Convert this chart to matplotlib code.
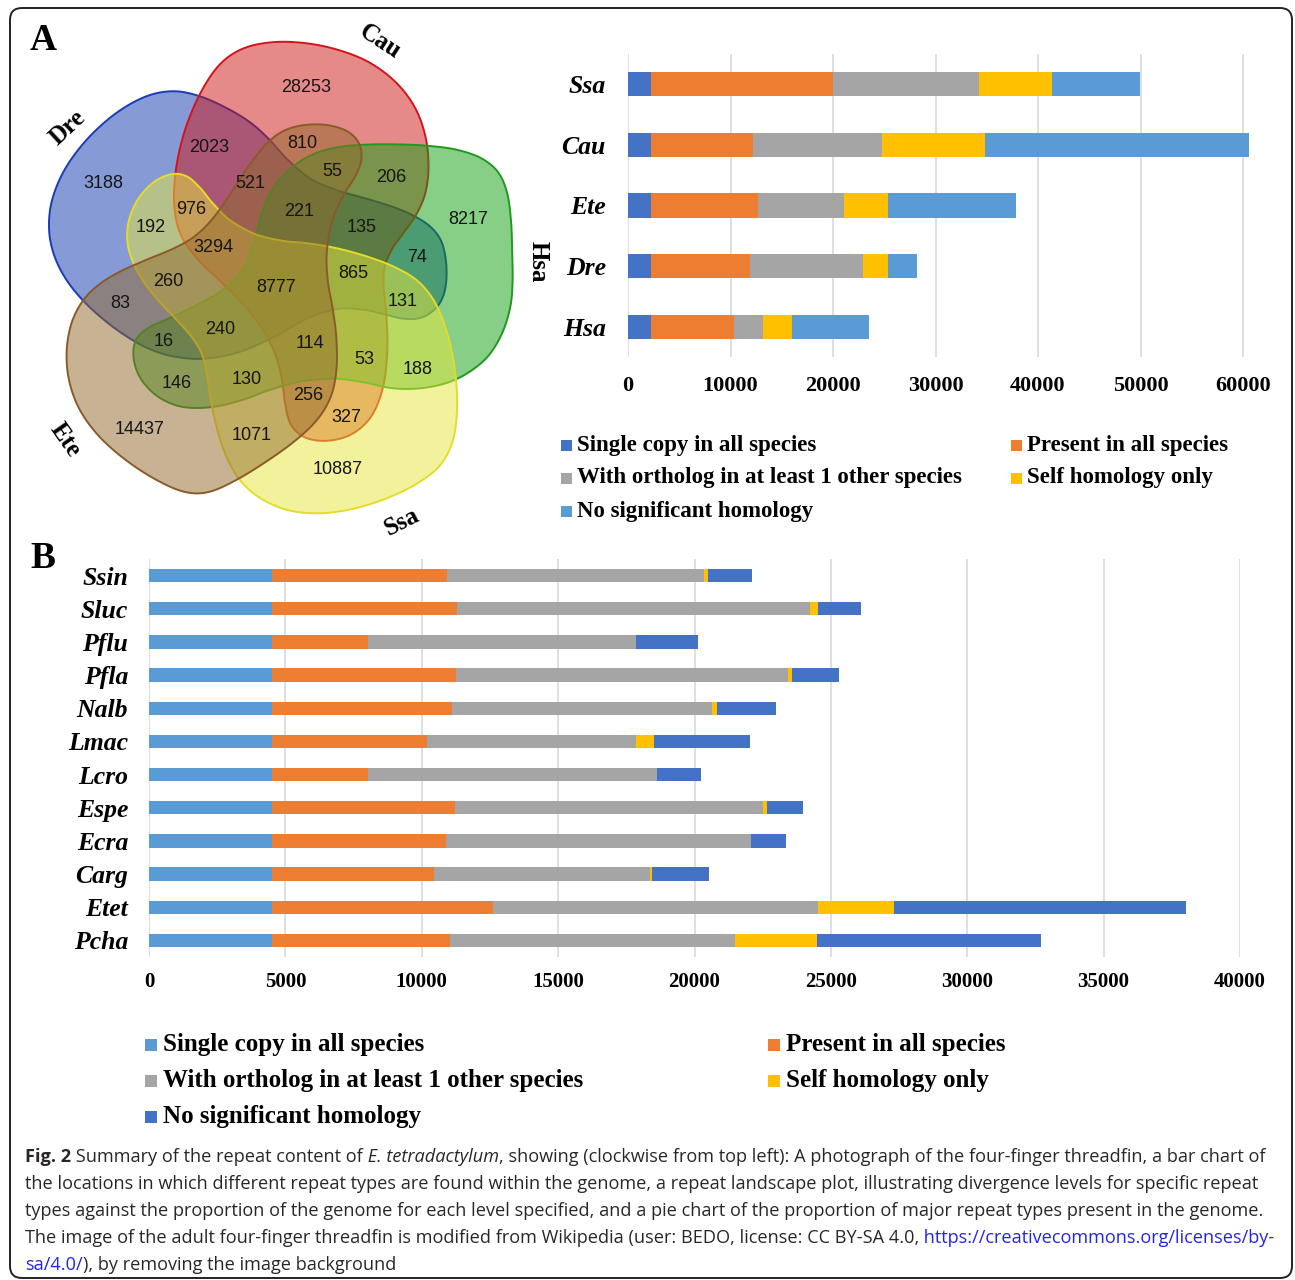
"""
Repeat content summary: five-species Venn diagram plus two stacked bar charts.
"""

import numpy as np
import matplotlib
matplotlib.use("Agg")
import matplotlib.pyplot as plt
from matplotlib.patches import Polygon, Rectangle, FancyBboxPatch
from matplotlib import font_manager

# ---- data -----------------------------------------------------------------
venn_sets = ["Dre", "Cau", "Hsa", "Ssa", "Ete"]
venn_counts = [3188, 28253, 2023, 810, 521, 55, 206, 976, 221, 8217, 192, 135,
               3294, 74, 260, 8777, 865, 83, 131, 240, 16, 114, 53, 188, 146,
               130, 256, 327, 14437, 1071, 10887]

category_labels = ["Single copy in all species", "Present in all species",
                   "With ortholog in at least 1 other species", "Self homology only",
                   "No significant homology"]

species_a = ["Ssa", "Cau", "Ete", "Dre", "Hsa"]
a_single = [2280, 2280, 2280, 2280, 2280]
a_present = [17730, 9910, 10380, 9590, 8100]
a_ortholog = [14240, 12570, 8420, 11020, 2790]
a_self = [7070, 10090, 4330, 2470, 2790]
a_nosig = [8660, 25780, 12420, 2790, 7540]
ticks_a = [0, 10000, 20000, 30000, 40000, 50000, 60000]

species_b = ["Ssin", "Sluc", "Pflu", "Pfla", "Nalb", "Lmac", "Lcro", "Espe",
             "Ecra", "Carg", "Etet", "Pcha"]
b_single = [4500, 4500, 4500, 4500, 4500, 4500, 4500, 4500, 4500, 4500, 4500, 4500]
b_present = [6410, 6790, 3520, 6760, 6610, 5710, 3520, 6720, 6380, 5960, 8100, 6520]
b_ortholog = [9420, 12960, 9850, 12160, 9540, 7660, 10610, 11300, 11200, 7920, 11930, 10470]
b_self = [180, 290, 0, 150, 190, 650, 0, 140, 0, 60, 2800, 3010]
b_nosig = [1610, 1570, 2270, 1730, 2140, 3500, 1600, 1310, 1260, 2100, 10680, 8210]
ticks_b = [0, 5000, 10000, 15000, 20000, 25000, 30000, 35000, 40000]

# ---- layout / style -------------------------------------------------------
W, H = 1295, 1280
BLUE_D, ORANGE, GREY, YELLOW, BLUE_L = "#4472C4", "#ED7D31", "#A5A5A5", "#FFC000", "#5B9BD5"
colors_a = [BLUE_D, ORANGE, GREY, YELLOW, BLUE_L]
colors_b = [BLUE_L, ORANGE, GREY, YELLOW, BLUE_D]

SERIF = ["Liberation Serif", "DejaVu Serif"]
plt.rcParams["font.family"] = SERIF

# outlines of the five sets (pixel coordinates, traced clockwise)
outline_dre = [(175, 89), (197, 94), (227, 107), (253, 123), (268, 137), (287, 160), (310, 183),
               (337, 190), (370, 200), (397, 207), (417, 217), (433, 227), (443, 240), (447, 260),
               (447, 287), (443, 300), (433, 313), (420, 320), (403, 320), (383, 314), (367, 309),
               (337, 307), (310, 313), (280, 337), (237, 355), (203, 361), (170, 358), (147, 348),
               (130, 340), (103, 320), (83, 302), (62, 277), (52, 253), (47, 227), (50, 200),
               (63, 167), (87, 137), (117, 110), (147, 93)]
outline_cau = [(273, 40), (303, 42), (337, 48), (370, 60), (397, 80), (417, 107), (427, 133),
               (430, 170), (427, 193), (417, 217), (403, 233), (390, 250), (383, 267), (382, 287),
               (388, 313), (388, 353), (385, 390), (373, 420), (353, 437), (327, 443), (303, 440),
               (288, 427), (285, 405), (283, 380), (277, 355), (265, 330), (245, 305), (223, 283),
               (197, 260), (177, 237), (173, 207), (174, 170), (183, 130), (200, 90), (220, 60),
               (240, 47)]
outline_hsa = [(290, 167), (313, 152), (337, 146), (370, 144), (403, 144), (430, 146), (457, 148),
               (483, 157), (500, 170), (508, 190), (512, 220), (512, 253), (513, 290), (512, 303),
               (503, 337), (490, 357), (470, 373), (450, 383), (430, 388), (403, 390), (387, 388),
               (367, 383), (337, 376), (303, 380), (270, 388), (247, 400), (220, 407), (193, 409),
               (177, 407), (153, 397), (137, 377), (132, 357), (133, 337), (147, 327), (167, 320),
               (187, 310), (207, 300), (227, 288), (247, 270), (255, 240), (262, 207), (273, 185)]
outline_ssa = [(172, 172), (187, 173), (200, 187), (212, 203), (227, 220), (253, 237), (287, 242),
               (303, 242), (337, 247), (370, 257), (397, 267), (420, 280), (437, 300), (450, 337),
               (457, 377), (458, 410), (455, 443), (443, 467), (420, 483), (387, 500), (353, 510),
               (320, 515), (287, 513), (260, 500), (240, 483), (227, 463), (217, 430), (210, 403),
               (207, 370), (203, 353), (193, 337), (177, 320), (160, 303), (140, 280), (130, 257),
               (126, 240), (127, 220), (137, 197), (153, 180)]
outline_ete = [(283, 130), (303, 123), (330, 124), (350, 130), (362, 143), (363, 160), (357, 177),
               (343, 193), (330, 220), (325, 253), (327, 287), (333, 303), (337, 337), (338, 370),
               (333, 397), (320, 420), (297, 440), (270, 460), (233, 483), (207, 495), (187, 495),
               (160, 483), (127, 463), (97, 437), (77, 410), (67, 380), (65, 350), (70, 320),
               (83, 297), (100, 283), (120, 270), (147, 260), (177, 247), (193, 240), (213, 220),
               (227, 200), (247, 167), (267, 140)]
outlines = [outline_dre, outline_cau, outline_hsa, outline_ssa, outline_ete]
venn_fill = ["#0F37AF", "#CD1515", "#119F11", "#E7E73D", "#91692B"]
venn_edge = ["#1A3CB4", "#D4141C", "#1E9A1E", "#E3DC2A", "#8B5A2B"]
set_label_pos = [(68, 128, 43), (380, 42, -33), (538, 262, -90), (402, 522, 27), (65, 440, -55)]
count_pos = [(103, 183), (306, 88), (209, 148), (302, 143), (250, 183), (332, 171), (391, 178),
             (191, 210), (299, 211), (468, 219), (151, 228), (362, 228), (213, 247), (417, 257),
             (168, 281), (276, 288), (353, 273), (120, 304), (403, 302), (220, 329), (164, 341),
             (310, 343), (364, 359), (418, 369), (177, 384), (247, 380), (308, 395), (346, 417),
             (140, 430), (252, 435), (338, 470)]


def closed_spline(pts, n=16):
    """Lightly smoothed Catmull-Rom curve through a closed list of points."""
    p = np.asarray(pts, dtype=float)
    p = 0.25 * np.roll(p, 1, axis=0) + 0.5 * p + 0.25 * np.roll(p, -1, axis=0)
    t = np.linspace(0, 1, n, endpoint=False)[:, None]
    out = []
    for i in range(len(p)):
        p0, p1, p2, p3 = p[i - 1], p[i], p[(i + 1) % len(p)], p[(i + 2) % len(p)]
        out.append(0.5 * (2 * p1 + (p2 - p0) * t + (2 * p0 - 5 * p1 + 4 * p2 - p3) * t ** 2
                          + (3 * p1 - p0 - 3 * p2 + p3) * t ** 3))
    return np.vstack(out)


fig = plt.figure(figsize=(W / 100, H / 100), dpi=100)
bg = fig.add_axes([0, 0, 1, 1], zorder=0)
bg.set_xlim(0, W)
bg.set_ylim(H, 0)
bg.axis("off")


def px_axes(left, top, right, bottom):
    ax = fig.add_axes([left / W, 1 - bottom / H, (right - left) / W, (bottom - top) / H], zorder=1)
    ax.patch.set_alpha(0)
    return ax


# panel frame
bg.add_patch(FancyBboxPatch((10, 8), 1282, 1270, boxstyle="round,pad=0,rounding_size=12",
                            fc="none", ec="#222222", lw=1.4))
bg.text(30, 50, "A", fontsize=27, weight="bold", va="baseline", ha="left")
bg.text(30, 568, "B", fontsize=27, weight="bold", va="baseline", ha="left")

# ---- Venn diagram ---------------------------------------------------------
for pts, fc, ec in zip(outlines, venn_fill, venn_edge):
    bg.add_patch(Polygon(closed_spline(pts), closed=True, fc=matplotlib.colors.to_rgba(fc, 0.5),
                         ec=ec, lw=1.4))

for value, (x, y) in zip(venn_counts, count_pos):
    bg.text(x, y, str(value), ha="center", va="center", fontsize=13,
            family=["Liberation Sans", "DejaVu Sans"], color="#161616")

for name, (x, y, rot) in zip(venn_sets, set_label_pos):
    bg.text(x, y, name, ha="center", va="center", rotation=rot, rotation_mode="anchor",
            fontsize=18, weight="bold")


# ---- stacked bars ---------------------------------------------------------
def stacked_barh(ax, names, segments, colors, ticks, xmax, label_size, tick_size, ypad, xpad):
    y = np.arange(len(names))
    left = np.zeros(len(names))
    for vals, c in zip(segments, colors):
        ax.barh(y, vals, left=left, height=0.4, color=c, lw=0, zorder=2)
        left += np.asarray(vals, dtype=float)
    ax.set_ylim(len(names) - 0.5, -0.5)
    ax.set_xlim(0, xmax)
    ax.set_yticks(y, names)
    ax.set_xticks(ticks, [str(t) for t in ticks])
    ax.tick_params(length=0)
    ax.tick_params(axis="y", pad=ypad, labelsize=label_size)
    ax.tick_params(axis="x", pad=xpad, labelsize=tick_size)
    for lbl in ax.get_yticklabels():
        lbl.set_fontweight("bold")
        lbl.set_fontstyle("italic")
    for lbl in ax.get_xticklabels():
        lbl.set_fontweight("bold")
    ax.grid(axis="x", color="#D9D9D9", lw=1.2, zorder=0)
    ax.set_axisbelow(True)
    for s in ax.spines.values():
        s.set_visible(False)


ax_a = px_axes(628, 54, 1253.25, 357)
stacked_barh(ax_a, species_a, [a_single, a_present, a_ortholog, a_self, a_nosig], colors_a,
             ticks_a, 61000, 18.5, 16, 16, 14)

ax_b = px_axes(149, 559, 1240, 957)
stacked_barh(ax_b, species_b, [b_single, b_present, b_ortholog, b_self, b_nosig], colors_b,
             ticks_b, 40000, 18.5, 15, 15, 11)


def legend_block(colors, sq_x, txt_x, rows, size, sq):
    for i, (label, c) in enumerate(zip(category_labels, colors)):
        col, row = i % 2, i // 2
        y = rows[row]
        bg.add_patch(Rectangle((sq_x[col], y - sq / 2), sq, sq, color=c, lw=0))
        bg.text(txt_x[col], y, label, va="center", ha="left", fontsize=size, weight="bold")


legend_block(colors_a, (561, 1011), (577, 1027), (445, 478, 511), 16.5, 11)
legend_block(colors_b, (145, 768), (163, 786), (1045, 1081, 1117), 18, 12)

# ---- caption --------------------------------------------------------------
installed = {f.name for f in font_manager.fontManager.ttflist}
cap_family = "Liberation Sans Narrow" if "Liberation Sans Narrow" in installed else "Open Sans"
INK, LINK = "#2A2627", "#2424E8"
cap_styles = {"bold": dict(weight="bold", color=INK), "normal": dict(color=INK),
              "italic": dict(style="italic", color=INK), "link": dict(color=LINK)}

caption = [
    [("Fig. 2", "bold"), (" Summary of the repeat content of", "normal"),
     (" E. tetradactylum", "italic"),
     (", showing (clockwise from top left): A photograph of the four-finger threadfin, a bar chart of",
      "normal")],
    [("the locations in which different repeat types are found within the genome, a repeat landscape "
      "plot, illustrating divergence levels for specific repeat", "normal")],
    [("types against the proportion of the genome for each level specified, and a pie chart of the "
      "proportion of major repeat types present in the genome.", "normal")],
    [("The image of the adult four-finger threadfin is modified from Wikipedia (user: BEDO, license: "
      "CC BY-SA 4.0,", "normal"), (" https://creativecommons.org/licenses/by-", "link")],
    [("sa/4.0/", "link"), ("), by removing the image background", "normal")],
]

renderer = fig.canvas.get_renderer()


def caption_line(x, y, segs, size):
    for text, style in segs:
        t = bg.text(x, y, text, va="baseline", ha="left", fontsize=size, family=cap_family,
                    **cap_styles[style])
        x += t.get_window_extent(renderer).width
    return x


# scale the caption so the first line spans the panel width
probe = [bg.text(0, -100, s, fontsize=10, family=cap_family, **cap_styles[st]) for s, st in caption[0]]
probe_w = sum(p.get_window_extent(renderer).width for p in probe)
for p in probe:
    p.remove()
cap_size = 10 * 1240 / probe_w

for i, segs in enumerate(caption):
    caption_line(25, 1162 + 27 * i, segs, cap_size)

fig.savefig("out.png", dpi=100)
